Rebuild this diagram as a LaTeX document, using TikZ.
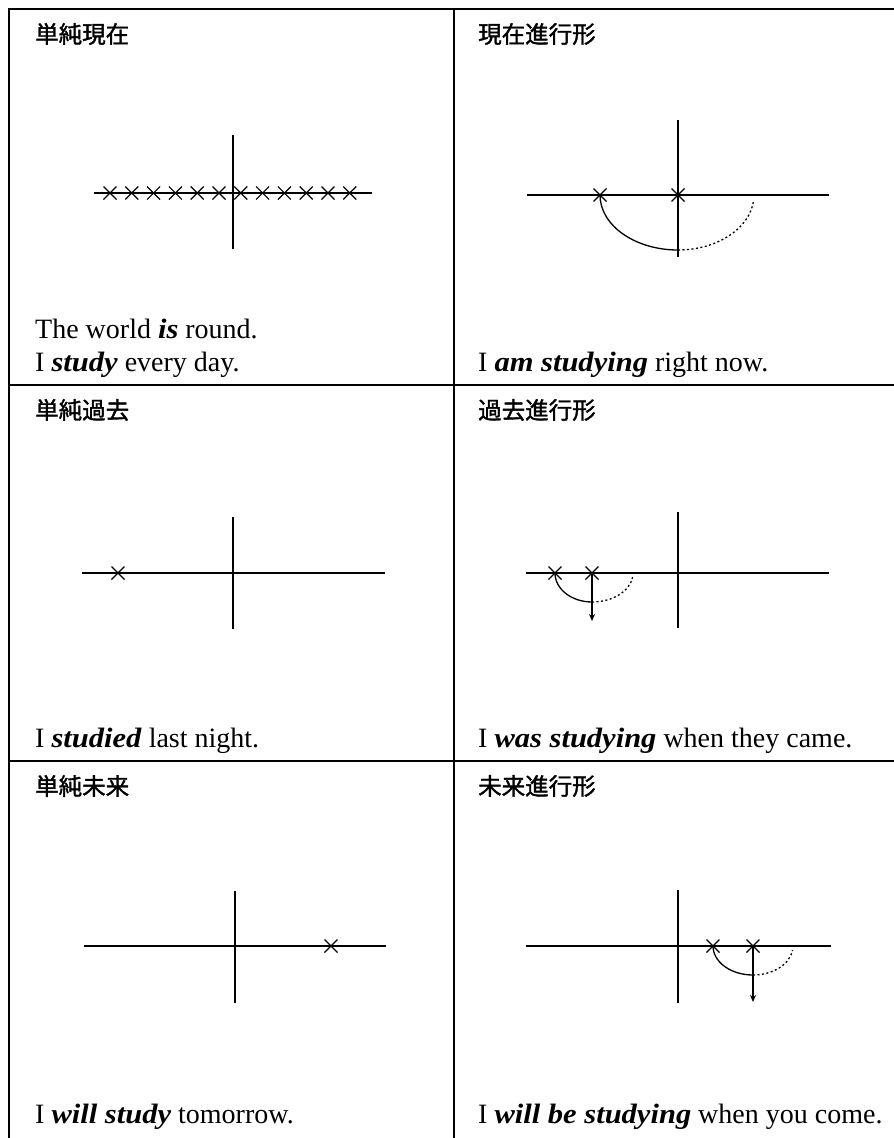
\documentclass[tikz,border=0pt]{standalone}
\usepackage{fontspec}
\setmainfont{Liberation Serif}[BoldItalicFeatures={FakeStretch=1.09}]
\newfontfamily\cjk[FakeBold=1.5]{Noto Sans CJK JP}
\usetikzlibrary{arrows.meta}
\tikzset{
  grid/.style={line width=1.4pt},
  axis/.style={line width=1.8pt},
  arcline/.style={line width=1.3pt},
  dotline/.style={line width=1.3pt, dash pattern=on 2pt off 2.5pt},
  ttl/.style={anchor=west, inner sep=0pt, font=\cjk\fontsize{23.5}{27}\selectfont},
  sent/.style={anchor=base west, inner sep=0pt, font=\fontsize{28}{32}\selectfont},
  xx/.pic={\draw[line width=1.2pt] (-6.5,-6.5)--(6.5,6.5) (-6.5,6.5)--(6.5,-6.5);}
}
\newcommand{\bi}[1]{\textbf{\textit{#1}}}
\begin{document}
\begin{tikzpicture}[x=1pt,y=-1pt]
\useasboundingbox (0,0) rectangle (894,1138);
% grid
\draw[grid] (9,1138) -- (9,9) -- (894,9);
\draw[grid] (454,9) -- (454,1138);
\draw[grid] (9,385) -- (894,385);
\draw[grid] (9,761) -- (894,761);
% titles
\node[ttl] (t1) at (35,34) {単純現在};
\node[ttl] (t2) at (478,34) {現在進行形};
\node[ttl] (t3) at (35,410) {単純過去};
\node[ttl] (t4) at (478,410) {過去進行形};
\node[ttl] (t5) at (35,786) {単純未来};
\node[ttl] (t6) at (478,786) {未来進行形};
% sentences
\node[sent] (s1a) at (35,338) {The world \bi{is} round.};
\node[sent] (s1b) at (35,371) {I \bi{study} every day.};
\node[sent] (s2) at (478,371) {I \bi{am studying} right now.};
\node[sent] (s3) at (35,747) {I \bi{studied} last night.};
\node[sent] (s4) at (478,747) {I \bi{was studying} when they came.};
\node[sent] (s5) at (35,1123) {I \bi{will study} tomorrow.};
\node[sent] (s6) at (478,1123) {I \bi{will be studying} when you come.};
% cell 1
\draw[axis] (94,193) -- (372,193);
\draw[axis] (233,135) -- (233,249);
\foreach \i in {0,...,11} \pic at ({110+\i*21.8},193) {xx};
% cell 2
\draw[axis] (527,195) -- (829,195);
\draw[axis] (678,120) -- (678,257);
\pic at (600,195) {xx};
\pic at (678,195) {xx};
\draw[arcline] (600,195) arc[start angle=180, end angle=90, x radius=78, y radius=55];
\draw[dotline] (678,250) arc[start angle=90, end angle=5, x radius=76, y radius=55];
% cell 3
\draw[axis] (82,573) -- (385,573);
\draw[axis] (233,517) -- (233,629);
\pic at (118,573) {xx};
% cell 4
\draw[axis] (526,573) -- (829,573);
\draw[axis] (678,512) -- (678,628);
\pic at (555,573) {xx};
\pic at (592,573) {xx};
\draw[arcline] (555,573) arc[start angle=180, end angle=90, x radius=37, y radius=29];
\draw[dotline] (592,602) arc[start angle=90, end angle=8, x radius=41, y radius=29];
\draw[arcline, -{Stealth[length=7pt,width=6pt]}] (592,573) -- (592,621);
% cell 5
\draw[axis] (84,946) -- (386,946);
\draw[axis] (235,891) -- (235,1003);
\pic at (331,946) {xx};
% cell 6
\draw[axis] (526,946) -- (831,946);
\draw[axis] (678,890) -- (678,1003);
\pic at (713,946) {xx};
\pic at (753,946) {xx};
\draw[arcline] (713,946) arc[start angle=180, end angle=90, x radius=40, y radius=29];
\draw[dotline] (753,975) arc[start angle=90, end angle=8, x radius=40, y radius=29];
\draw[arcline, -{Stealth[length=7pt,width=6pt]}] (753,946) -- (753,1002);
\end{tikzpicture}
\end{document}
